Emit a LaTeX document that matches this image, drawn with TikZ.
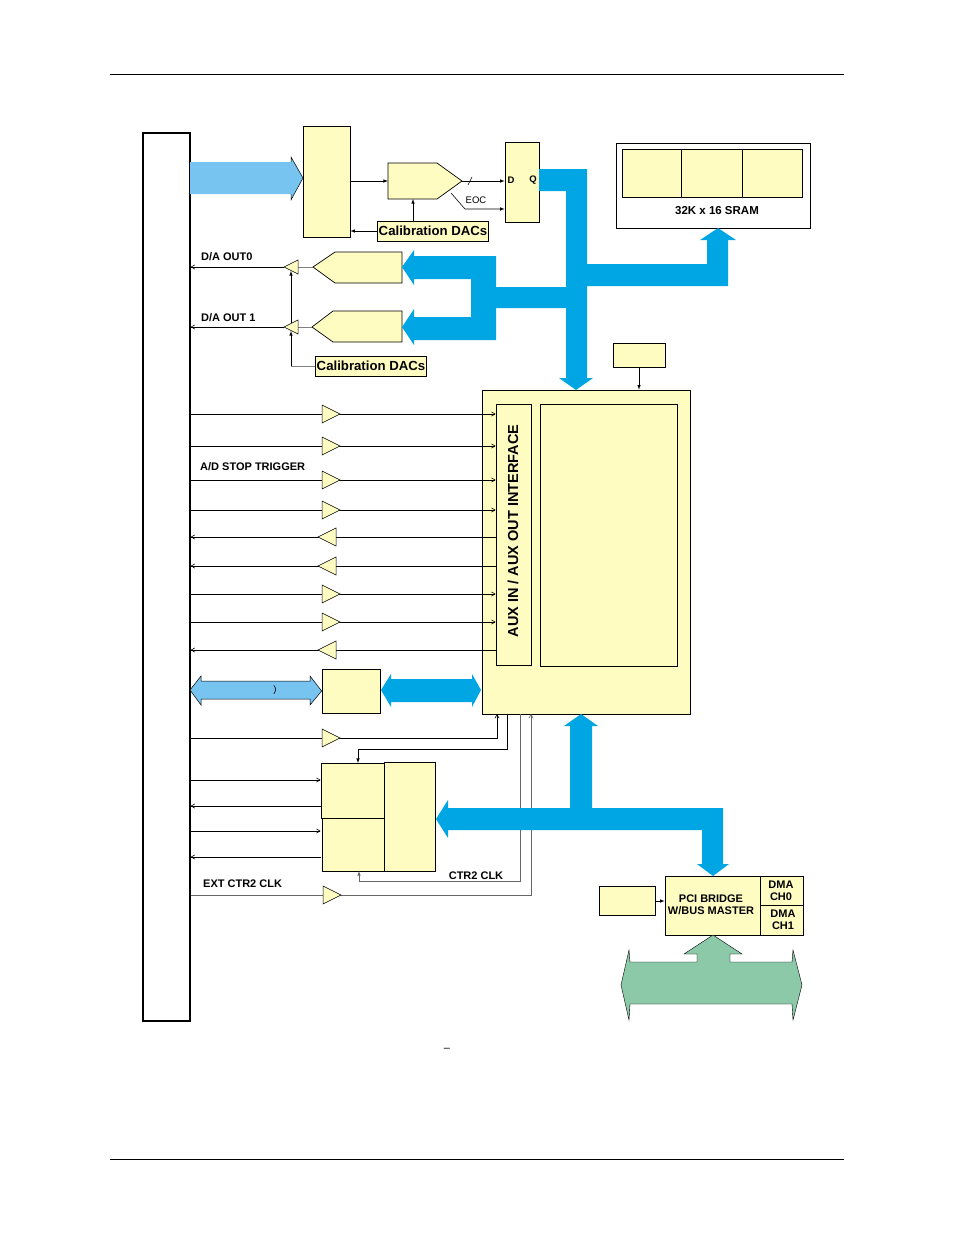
\documentclass[tikz,border=0pt]{standalone}
\usepackage{fontspec}
\setmainfont{Liberation Sans}
\usetikzlibrary{positioning,arrows,calc}
\definecolor{blkyellow}{rgb}{1.0,0.99,0.76}
\definecolor{busblue}{rgb}{0.0,0.65,0.89}
\definecolor{lightbus}{rgb}{0.47,0.77,0.94}
\definecolor{pcigreen}{rgb}{0.55,0.79,0.66}
\tikzset{
  blk/.style={draw=black, fill=blkyellow, line width=0.7pt},
  lbl/.style={font=\bfseries\fontsize{11}{12}\selectfont, inner sep=0pt},
  cal/.style={draw=black, fill=blkyellow, line width=0.7pt, font=\bfseries\fontsize{13.2}{15}\selectfont, inner sep=1.5pt, minimum height=20pt},
  sig/.style={line width=0.6pt, ->, >=angle 60},
  sigf/.style={line width=0.6pt, ->, >=latex},
  bus/.style={fill=busblue, draw=none},
}
% buffer triangle: \bufr{x}{y} points right, \bufl{x}{y} points left
\newcommand{\bufr}[2]{\draw[blk, line width=0.5pt] (#1,#2-9) -- (#1+18,#2) -- (#1,#2+9) -- cycle;}
\newcommand{\bufl}[2]{\draw[blk, line width=0.5pt] (#1+18,#2-9) -- (#1,#2) -- (#1+18,#2+9) -- cycle;}
\begin{document}
\begin{tikzpicture}[x=1pt,y=-1pt]
  \useasboundingbox (0,0) rectangle (954,1235);
  \draw[line width=0.6pt] (110,74) -- (844,74);
  \draw[line width=0.6pt] (110,1159) -- (844,1159);

  % connector
  \node[draw, line width=1.2pt, fill=white, minimum width=47pt, minimum height=888pt, inner sep=0] (conn) at (166.5,577) {};

  % analog input path
  \node[blk, minimum width=47pt, minimum height=111pt, inner sep=0] (mux) at (326.5,181.5) {};
  \fill[lightbus] (190,162) -- (291,162) -- (291,157) -- (303,178) -- (291,200) -- (291,194) -- (190,194) -- cycle;
  \draw[line width=0.5pt] (291,162) -- (291,157) -- (303,178) -- (291,200) -- (291,194);
  \draw[blk] (388,163) -- (437,163) -- (462,181) -- (437,199) -- (388,199) -- cycle;
  \coordinate (adc) at (388,181);
  \coordinate (adctip) at (462,181);
  \node[cal] (cal1) at (433,231) {Calibration DACs};
  \node[blk, minimum width=34pt, minimum height=80pt, inner sep=0] (latch) at (522,182) {};
  \node[font=\bfseries\fontsize{9.5}{10}\selectfont, inner sep=0] at (511,180) {D};
  \node[font=\bfseries\fontsize{9.5}{10}\selectfont, inner sep=0] at (533,180) {Q};
  \draw[sigf] (mux.east |- adc) -- (adc);
  \draw[sigf] (adctip) -- (latch.west |- adctip);
  \draw[line width=0.6pt] (468,185) -- (472,177);
  \draw[sigf] (451,193) -- (465,209) -- (latch.west |- 0,209);
  \node[font=\fontsize{9.5}{10}\selectfont, inner sep=0] at (476,200) {EOC};
  \draw[sigf] (cal1.north -| 413,0) -- (413,199);
  \draw[sigf] (cal1.west) -- (mux.east |- cal1.west);

  % SRAM
  \node[draw, line width=0.7pt, minimum width=194pt, minimum height=85pt, inner sep=0] (sram) at (713,185.5) {};
  \node[blk, minimum width=59pt, minimum height=48pt, inner sep=0] (sr1) at (651.5,173) {};
  \node[blk, minimum width=61pt, minimum height=48pt, inner sep=0] (sr2) at (711.5,173) {};
  \node[blk, minimum width=60pt, minimum height=48pt, inner sep=0] (sr3) at (772,173) {};
  \node[lbl, font=\bfseries\fontsize{11.5}{13}\selectfont] at (717,211) {32K x 16 SRAM};

  % DACs
  \draw[blk] (402,252) -- (335,252) -- (313,267) -- (335,283) -- (402,283) -- cycle;
  \draw[blk] (402,311) -- (333,311) -- (312,327) -- (333,342) -- (402,342) -- cycle;
  \coordinate (dac0) at (313,267);
  \coordinate (dac1) at (312,327);
  \draw[line width=0.6pt, gray] (dac0) -- (298,267);
  \draw[line width=0.6pt, gray] (dac1) -- (298,327);
  \draw[blk, line width=0.5pt] (298,260) -- (284,267) -- (298,274) -- cycle;
  \draw[blk, line width=0.5pt] (298,320) -- (284,327) -- (298,334) -- cycle;
  \draw[sig] (284,267) -- (conn.east |- 0,267);
  \draw[sig] (284,327) -- (conn.east |- 0,327);
  \node[lbl, anchor=west] at (201,257) {D/A OUT0};
  \node[lbl, anchor=west] at (201,318) {D/A OUT 1};
  \node[cal] (cal2) at (371,366) {Calibration DACs};
  \draw[line width=0.6pt, gray] (cal2.west) -- (291,366);
  \draw[sigf] (291,366) -- (291,331);
  \draw[sigf] (291,323) -- (291,271);

  % main block
  \node[blk, minimum width=208pt, minimum height=324pt, inner sep=0] (main) at (586,552) {};
  \node[blk, minimum width=35pt, minimum height=261pt, inner sep=0] (aux) at (513.5,534.5) {};
  \node[rotate=90, font=\bfseries\fontsize{14.5}{16}\selectfont, inner sep=0] at (513,531) {AUX IN / AUX OUT INTERFACE};
  \node[blk, minimum width=137pt, minimum height=262pt, inner sep=0] (core) at (608.5,535) {};
  \node[blk, minimum width=52pt, minimum height=24pt, inner sep=0] (clk) at (639,355) {};
  \draw[sigf] (clk.south) -- (clk.south |- main.north);

  % aux signals
  \foreach \y in {414,446,480,510,594,622} {
    \draw[sig] (conn.east |- 0,\y) -- (aux.west |- 0,\y);
    \bufr{322}{\y}
  }
  \foreach \y in {537,566,650} {
    \draw[sig] (aux.west |- 0,\y) -- (conn.east |- 0,\y);
    \bufl{318}{\y}
  }
  \node[lbl, anchor=west] at (200,467) {A/D STOP TRIGGER};

  % digital I/O
  \node[blk, minimum width=58pt, minimum height=44pt, inner sep=0] (dio) at (351,691) {};
  \fill[lightbus] (190,690) -- (201,676) -- (201,681) -- (310,681) -- (310,676) -- (dio.west) -- (310,705) -- (310,699) -- (201,699) -- (201,705) -- cycle;
  \draw[line width=0.5pt] (190,690) -- (201,676) -- (201,681) -- (310,681) -- (310,676) -- (dio.west) -- (310,705) -- (310,699) -- (201,699) -- (201,705) -- cycle;
  \node[font=\fontsize{9.5}{10}\selectfont, inner sep=0] at (275,690) {)};
  \fill[busblue] (381,690) -- (391,674) -- (391,679) -- (472,679) -- (472,674) -- (481,690) -- (472,707) -- (472,702) -- (391,702) -- (391,707) -- cycle;

  % counters
  \node[blk, minimum width=63pt, minimum height=55pt, inner sep=0] (ctr0) at (352.5,790.5) {};
  \node[blk, minimum width=62pt, minimum height=53pt, inner sep=0] (ctr1) at (353,844.5) {};
  \node[blk, minimum width=51pt, minimum height=109pt, inner sep=0] (ctr2) at (409.5,816.5) {};
  \draw[sig] (conn.east |- 0,738) -- (497,738) -- (497,714);
  \bufr{322}{738}
  \draw[sigf] (507,714) -- (507,749) -- (358,749) -- (358,763);
  \foreach \y in {780,831} \draw[sig] (conn.east |- 0,\y) -- (ctr0.west |- 0,\y);
  \foreach \y in {806,857} \draw[sig] (ctr0.west |- 0,\y) -- (conn.east |- 0,\y);
  \draw[sigf, gray!80!black] (520,714) -- (520,881) -- (359,881) -- (359,871);
  \node[lbl] at (476,876) {CTR2 CLK};
  \draw[sig, gray!80!black] (conn.east |- 0,895) -- (531,895) -- (531,714);
  \bufr{323}{895}
  \node[lbl, anchor=west] at (203,884) {EXT CTR2 CLK};

  % data buses
  \fill[bus] (539,169) -- (587,169) -- (587,264) -- (707,264) -- (707,240) -- (700,240) -- (718,228) -- (736,240) -- (728,240) -- (728,286) -- (587,286)
     -- (587,378) -- (593,378) -- (576,390) -- (559,378) -- (566,378) -- (566,308) -- (496,308) -- (496,340) -- (414,340) -- (414,345) -- (402,327) -- (414,309) -- (414,317)
     -- (471,317) -- (471,279) -- (414,279) -- (414,285) -- (402,267) -- (414,250) -- (414,256) -- (496,256) -- (496,287) -- (566,287) -- (566,191) -- (539,191) -- cycle;
  \fill[bus] (581,714) -- (598,726) -- (592,726) -- (592,808) -- (723,808) -- (723,864) -- (729,864) -- (713,876) -- (697,864) -- (702,864) -- (702,830)
     -- (448,830) -- (448,838) -- (436,819) -- (448,800) -- (448,808) -- (570,808) -- (570,726) -- (564,726) -- cycle;

  % PCI bridge
  \node[blk, minimum width=138pt, minimum height=59pt, inner sep=0] (pci) at (734,905.5) {};
  \draw[line width=0.7pt] (760,876) -- (760,935);
  \draw[line width=0.7pt] (760,905) -- (803,905);
  \node[lbl, align=center] at (711,905) {PCI BRIDGE\\W/BUS MASTER};
  \node[lbl, align=center] at (781,891) {DMA\\CH0};
  \node[lbl, align=center] at (783,920) {DMA\\CH1};
  \node[blk, minimum width=56pt, minimum height=29pt, inner sep=0] (cfg) at (627,901) {};
  \draw[sigf] (cfg.east) -- (pci.west |- cfg.east);
  \filldraw[fill=pcigreen, draw=black, line width=0.4pt] (713,935) -- (742,954) -- (730,954) -- (730,962) -- (792,962) -- (793,950) -- (802,985) -- (793,1020) -- (792,1004)
     -- (630,1004) -- (629,1020) -- (621,985) -- (629,950) -- (630,962) -- (697,962) -- (697,954) -- (684,954) -- cycle;

  \node[inner sep=0] (cap) at (447,1050) {\fontsize{11}{12}\selectfont –};
\end{tikzpicture}
\end{document}
